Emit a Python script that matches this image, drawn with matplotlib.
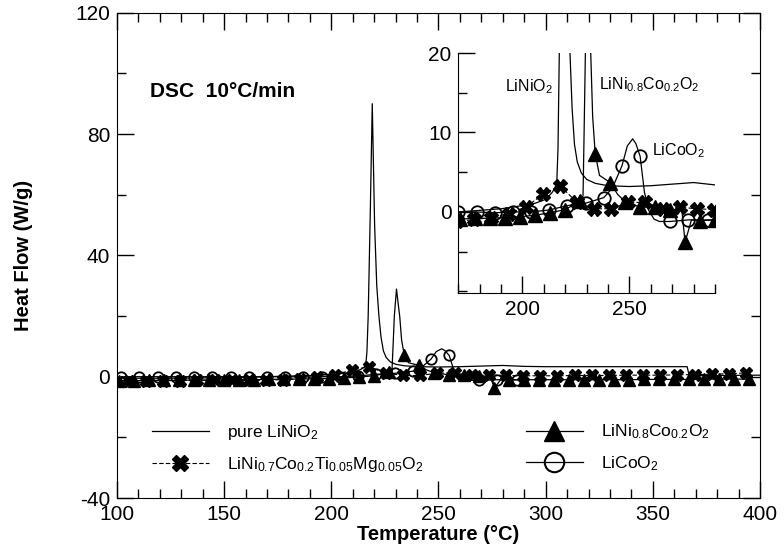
import matplotlib
matplotlib.use("Agg")
import matplotlib.pyplot as plt
from matplotlib.ticker import MultipleLocator
from matplotlib.lines import Line2D

plt.rcParams['font.family'] = ['Liberation Sans', 'DejaVu Sans']
plt.rcParams['mathtext.fontset'] = 'custom'
plt.rcParams['mathtext.rm'] = 'Liberation Sans'
plt.rcParams['mathtext.it'] = 'Liberation Sans:italic'
plt.rcParams['mathtext.bf'] = 'Liberation Sans:bold'
plt.rcParams['axes.unicode_minus'] = False

# ---- data (T in degC, heat flow in W/g) ----
# pure LiNiO2 : line only
nio_T = [100, 120, 140, 160, 170, 180, 190, 200, 206, 211, 214, 216, 216.6, 217.2, 218.2,
         219.1, 220.2, 221.2, 222.2, 223.2, 224.3, 225.6, 227.5, 230, 234, 240, 250, 260,
         270, 280, 290, 300, 330, 360, 366, 367, 380, 400]
nio_V = [-0.5, -0.5, -0.4, -0.2, 0.0, 0.2, 0.4, 0.8, 1.1, 1.6, 2.5, 3.5, 8, 20, 55,
         90, 50, 30, 20, 13, 8.5, 6.3, 4.9, 4.1, 3.6, 3.3, 3.2, 3.3,
         3.5, 3.7, 3.4, 3.3, 3.3, 3.3, 3.3, 0.3, 0.4, 0.5]

# LiNi0.8Co0.2O2 : triangles (marker points + extra line points)
nco_mk_T = [101, 108, 115, 122, 129, 136, 143, 150, 157, 164, 171, 178, 185, 192, 199,
            206, 213, 220, 227, 234, 241, 248, 255, 262, 269, 276, 283, 290, 297, 304,
            311, 318, 325, 332, 339, 346, 353, 360, 367, 374, 381, 388, 395]
nco_mk_V = [-1.3, -1.3, -1.2, -1.2, -1.2, -1.1, -1.1, -1.1, -1.0, -1.0, -0.9, -0.8, -0.8, -0.7, -0.6,
            -0.4, -0.1, 0.3, 1.4, 7.3, 3.7, 1.3, 0.6, 0.6, 0.2, -3.8, -1.1, -1.0, -1.0, -1.0,
            -1.0, -1.0, -1.0, -1.0, -1.0, -0.9, -0.9, -0.9, -0.9, -0.8, -0.8, -0.8, -0.8]
nco_ln_T = [228.3, 228.8, 229.4, 230.4, 231.2, 231.9, 232.8, 236, 244.5, 274.5, 279]
nco_ln_V = [2.0, 10, 20, 28.9, 24, 20, 12, 4.6, 2.2, 0.2, -1.0]

# LiCoO2 : open circles
lco_mk_T = [102, 110.5, 119, 127.5, 136, 144.5, 153, 161.5, 170, 178.5, 187, 195.5, 204,
            212.5, 221, 229.5, 238, 246.5, 255, 269, 277.5, 286.5]
lco_mk_V = [0.0, 0.0, 0.0, 0.0, 0.0, 0.0, 0.0, 0.0, 0.0, 0.0, -0.1, 0.0, 0.0,
            0.25, 0.8, 1.1, 1.8, 5.8, 7.0, -1.2, -1.0, -1.0]
lco_ln_T = [242, 249, 251.5, 253, 257, 259, 261.5, 264, 290]
lco_ln_V = [3.0, 8.3, 9.2, 8.6, 2.5, 0.2, -0.9, -1.2, -1.0]

# LiNi0.7Co0.2Ti0.05Mg0.05O2 : crosses
tmg_mk_T = [105.5, 113.5, 121.5, 129.5, 137.5, 145.5, 153.5, 161.5, 169.5, 177.5, 185.5,
            193.5, 201.5, 209.5, 217.5, 225.5, 233.5, 241.5, 249.5, 257.5, 265.5, 273.5,
            281.5, 289.5, 297.5, 305.5, 313.5, 321.5, 329.5, 337.5, 345.5, 353.5, 361.5,
            369.5, 377.5, 385.5, 393.5]
tmg_mk_V = [-1.3, -1.3, -1.3, -1.3, -1.2, -1.2, -1.2, -1.2, -1.2, -0.95, -0.7,
            -0.2, 0.6, 2.2, 3.3, 1.2, 0.4, 0.4, 1.2, 1.2, 0.4, 0.6,
            0.4, 0.3, 0.3, 0.3, 0.4, 0.4, 0.4, 0.5, 0.5, 0.5, 0.6,
            0.7, 0.8, 1.0, 1.2]

inset_yticks = [0, 10, 20]

lab_nio = r'pure LiNiO$_\mathregular{2}$'
lab_tmg = r'LiNi$_\mathregular{0.7}$Co$_\mathregular{0.2}$Ti$_\mathregular{0.05}$Mg$_\mathregular{0.05}$O$_\mathregular{2}$'
lab_nco = r'LiNi$_\mathregular{0.8}$Co$_\mathregular{0.2}$O$_\mathregular{2}$'
lab_lco = r'LiCoO$_\mathregular{2}$'


def merged(mk_T, mk_V, ln_T, ln_V):
    pts = sorted(zip(list(mk_T) + list(ln_T), list(mk_V) + list(ln_V)))
    return [p[0] for p in pts], [p[1] for p in pts]


def draw_curves(ax, ms):
    ax.plot(nio_T, nio_V, color='k', lw=0.9)
    ax.plot(tmg_mk_T, tmg_mk_V, color='k', lw=0.8, ls=(0, (4, 2)))
    ax.plot(tmg_mk_T, tmg_mk_V, ls='none', marker='X', ms=ms, mfc='k', mec='k')
    t, v = merged(nco_mk_T, nco_mk_V, nco_ln_T, nco_ln_V)
    ax.plot(t, v, color='k', lw=0.9)
    ax.plot(nco_mk_T, nco_mk_V, ls='none', marker='^', ms=ms, mfc='k', mec='k')
    t, v = merged(lco_mk_T, lco_mk_V, lco_ln_T, lco_ln_V)
    ax.plot(t, v, color='k', lw=0.9)
    ax.plot(lco_mk_T, lco_mk_V, ls='none', marker='o', ms=ms - 0.5, mfc='none', mec='k', mew=1.3)


fig = plt.figure(figsize=(7.84, 5.58), dpi=100)
ax = fig.add_axes([0.1492, 0.1075, 0.8202, 0.8697])
draw_curves(ax, 8)

ax.set_xlim(100, 400)
ax.set_ylim(-40, 120)
ax.xaxis.set_major_locator(MultipleLocator(50))
ax.xaxis.set_minor_locator(MultipleLocator(10))
ax.yaxis.set_major_locator(MultipleLocator(40))
ax.yaxis.set_minor_locator(MultipleLocator(20))
ax.tick_params(which='both', direction='in', top=True, right=True, labelsize=15, pad=5)
ax.tick_params(which='major', length=12, width=1)
ax.tick_params(which='minor', length=6.5, width=1)
ax.set_xlabel('Temperature (°C)', fontsize=14.5, fontweight='bold', labelpad=1)
ax.set_ylabel('Heat Flow (W/g)', fontsize=14.5, fontweight='bold', labelpad=30)
ax.text(115.4, 94, 'DSC  10°C/min', fontsize=15, fontweight='bold', va='center', ha='left')

# legend
h_nio = Line2D([], [], color='k', lw=0.9)
h_tmg = Line2D([], [], color='k', lw=0.8, ls=(0, (4, 2)), marker='X', ms=12, mfc='k', mec='k')
h_nco = Line2D([], [], color='k', lw=0.9, marker='^', ms=14, mfc='k', mec='k')
h_lco = Line2D([], [], color='k', lw=0.9, marker='o', ms=14, mfc='none', mec='k', mew=1.5)
ax.legend([h_nio, h_tmg, h_nco, h_lco], [lab_nio, lab_tmg, lab_nco, lab_lco],
          ncol=2, loc='upper left', bbox_to_anchor=(0.054, 0.155), frameon=False,
          fontsize=12.5, handlelength=3.3, handletextpad=1.05, columnspacing=5.9,
          labelspacing=0.75, borderpad=0, borderaxespad=0)

# inset
ins = fig.add_axes([0.5846, 0.4749, 0.3274, 0.4301])
draw_curves(ins, 9.5)
ins.set_xlim(170, 290)
ins.set_ylim(-10.2, 20)
ins.spines['top'].set_visible(False)
ins.spines['right'].set_visible(False)
ins.xaxis.set_major_locator(MultipleLocator(50))
ins.xaxis.set_minor_locator(MultipleLocator(10))
ins.set_yticks(inset_yticks)
ins.yaxis.set_minor_locator(MultipleLocator(5))
ins.tick_params(which='both', direction='in', labelsize=15, pad=5)
ins.tick_params(which='major', length=12, width=1)
ins.tick_params(which='minor', length=6.5, width=1)
ins.text(191.8, 15.8, r'LiNiO$_\mathregular{2}$', fontsize=11.5, va='center', ha='left')
ins.text(235.8, 16.0, lab_nco, fontsize=11.5, va='center', ha='left')
ins.text(260.4, 7.7, lab_lco, fontsize=11.5, va='center', ha='left')

fig.savefig('out.png', dpi=100)
